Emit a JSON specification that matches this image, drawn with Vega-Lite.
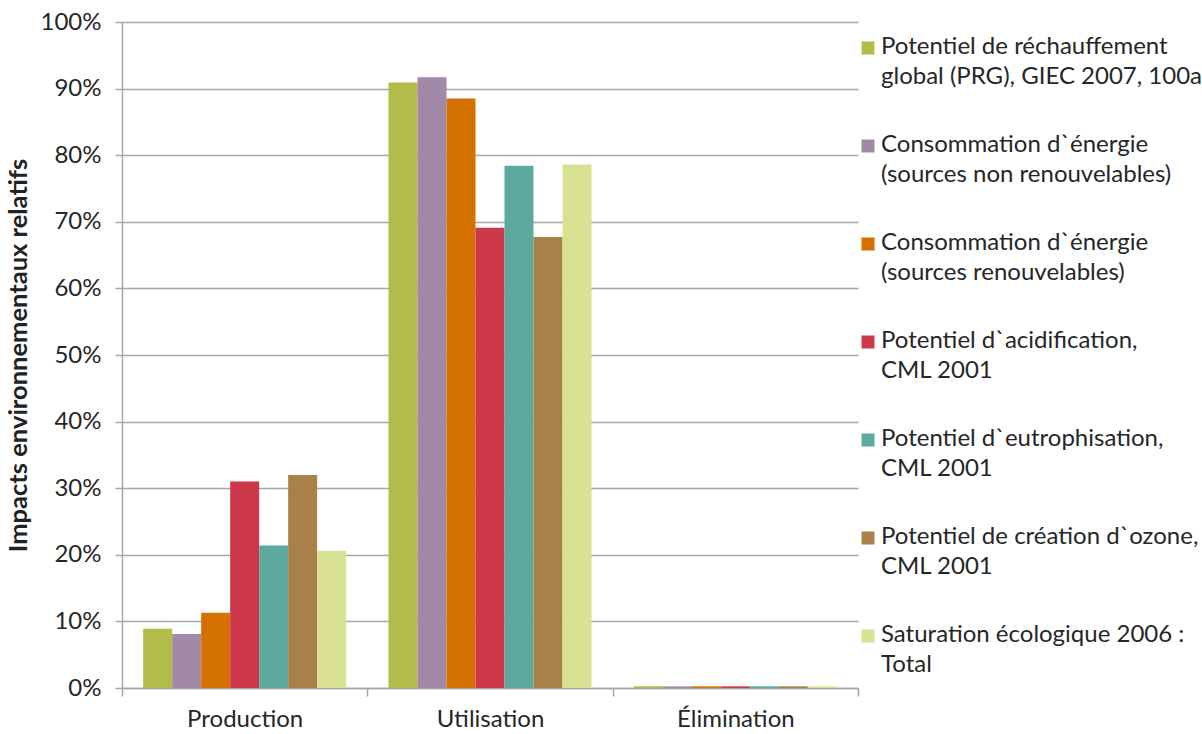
{
  "$schema": "https://vega.github.io/schema/vega-lite/v6.json",
  "autosize": {"type": "none"},
  "padding": {"left": 122, "top": 22, "right": 344, "bottom": 46},
  "width": 736,
  "height": 666,
  "background": "white",
  "config": {
    "view": {"stroke": null},
    "font": "Lato",
    "axis": {"labelFont": "Lato", "titleFont": "Lato", "labelColor": "#262626", "titleColor": "#222"},
    "legend": {"labelFont": "Lato"}
  },
  "data": {
    "values": [
      {"phase": "Production", "series": "Potentiel de réchauffement global (PRG), GIEC 2007, 100a", "value": 0.089},
      {"phase": "Production", "series": "Consommation d`énergie (sources non renouvelables)", "value": 0.081},
      {"phase": "Production", "series": "Consommation d`énergie (sources renouvelables)", "value": 0.113},
      {"phase": "Production", "series": "Potentiel d`acidification, CML 2001", "value": 0.310},
      {"phase": "Production", "series": "Potentiel d`eutrophisation, CML 2001", "value": 0.214},
      {"phase": "Production", "series": "Potentiel de création d`ozone, CML 2001", "value": 0.320},
      {"phase": "Production", "series": "Saturation écologique 2006 : Total", "value": 0.206},
      {"phase": "Utilisation", "series": "Potentiel de réchauffement global (PRG), GIEC 2007, 100a", "value": 0.909},
      {"phase": "Utilisation", "series": "Consommation d`énergie (sources non renouvelables)", "value": 0.917},
      {"phase": "Utilisation", "series": "Consommation d`énergie (sources renouvelables)", "value": 0.885},
      {"phase": "Utilisation", "series": "Potentiel d`acidification, CML 2001", "value": 0.691},
      {"phase": "Utilisation", "series": "Potentiel d`eutrophisation, CML 2001", "value": 0.784},
      {"phase": "Utilisation", "series": "Potentiel de création d`ozone, CML 2001", "value": 0.677},
      {"phase": "Utilisation", "series": "Saturation écologique 2006 : Total", "value": 0.786},
      {"phase": "Élimination", "series": "Potentiel de réchauffement global (PRG), GIEC 2007, 100a", "value": 0.0025},
      {"phase": "Élimination", "series": "Consommation d`énergie (sources non renouvelables)", "value": 0.0025},
      {"phase": "Élimination", "series": "Consommation d`énergie (sources renouvelables)", "value": 0.0025},
      {"phase": "Élimination", "series": "Potentiel d`acidification, CML 2001", "value": 0.0025},
      {"phase": "Élimination", "series": "Potentiel d`eutrophisation, CML 2001", "value": 0.0025},
      {"phase": "Élimination", "series": "Potentiel de création d`ozone, CML 2001", "value": 0.0025},
      {"phase": "Élimination", "series": "Saturation écologique 2006 : Total", "value": 0.0025}
    ]
  },
  "mark": {"type": "bar"},
  "encoding": {
    "x": {
      "field": "phase",
      "type": "nominal",
      "sort": ["Production", "Utilisation", "Élimination"],
      "scale": {"paddingInner": 0, "paddingOuter": 0},
      "axis": {
        "title": null,
        "labelAngle": 0,
        "labelFontSize": 24,
        "labelPadding": 11,
        "tickBand": "extent",
        "tickSize": 8,
        "tickColor": "#A6A6A6",
        "tickWidth": 1.5,
        "domainColor": "#A6A6A6",
        "domainWidth": 1.5,
        "grid": false
      }
    },
    "xOffset": {
      "field": "series",
      "type": "nominal",
      "sort": null,
      "scale": {"paddingInner": 0, "paddingOuter": 0.73}
    },
    "y": {
      "field": "value",
      "type": "quantitative",
      "scale": {"domain": [0, 1]},
      "axis": {
        "title": "Impacts environnementaux relatifs",
        "titleFontSize": 25.5,
        "titleFontWeight": "bold",
        "titlePadding": 9,
        "values": [0, 0.1, 0.2, 0.3, 0.4, 0.5, 0.6, 0.7, 0.8, 0.9, 1],
        "format": ".0%",
        "labelFontSize": 24,
        "labelPadding": 14,
        "tickSize": 7,
        "tickColor": "#A6A6A6",
        "tickWidth": 1.5,
        "domainColor": "#A6A6A6",
        "domainWidth": 1.5,
        "grid": true,
        "gridColor": "#A6A6A6",
        "gridWidth": 1.5
      }
    },
    "color": {
      "field": "series",
      "type": "nominal",
      "sort": null,
      "scale": {
        "domain": [
          "Potentiel de réchauffement global (PRG), GIEC 2007, 100a",
          "Consommation d`énergie (sources non renouvelables)",
          "Consommation d`énergie (sources renouvelables)",
          "Potentiel d`acidification, CML 2001",
          "Potentiel d`eutrophisation, CML 2001",
          "Potentiel de création d`ozone, CML 2001",
          "Saturation écologique 2006 : Total"
        ],
        "range": ["#B3BC49", "#A389A8", "#D57100", "#CD384B", "#5BA99F", "#A88149", "#D9E193"]
      },
      "legend": {
        "title": null,
        "orient": "none",
        "legendX": 734,
        "legendY": 14,
        "symbolType": "square",
        "symbolSize": 169,
        "symbolStrokeWidth": 0,
        "labelFontSize": 24,
        "labelColor": "#262626",
        "labelLimit": 400,
        "labelOffset": 1,
        "rowPadding": 44,
        "labelBaseline": "top",
        "labelExpr": "datum.label == 'Potentiel de réchauffement global (PRG), GIEC 2007, 100a' ? ['Potentiel de réchauffement', 'global (PRG), GIEC 2007, 100a'] : datum.label == 'Consommation d`énergie (sources non renouvelables)' ? ['Consommation d`énergie', '(sources non renouvelables)'] : datum.label == 'Consommation d`énergie (sources renouvelables)' ? ['Consommation d`énergie', '(sources renouvelables)'] : datum.label == 'Potentiel d`acidification, CML 2001' ? ['Potentiel d`acidification,', 'CML 2001'] : datum.label == 'Potentiel d`eutrophisation, CML 2001' ? ['Potentiel d`eutrophisation,', 'CML 2001'] : datum.label == 'Potentiel de création d`ozone, CML 2001' ? ['Potentiel de création d`ozone,', 'CML 2001'] : ['Saturation écologique 2006 :', 'Total']",
        "encoding": {"labels": {"lineHeight": {"value": 30}, "dy": {"value": -13}}}
      }
    }
  }
}
